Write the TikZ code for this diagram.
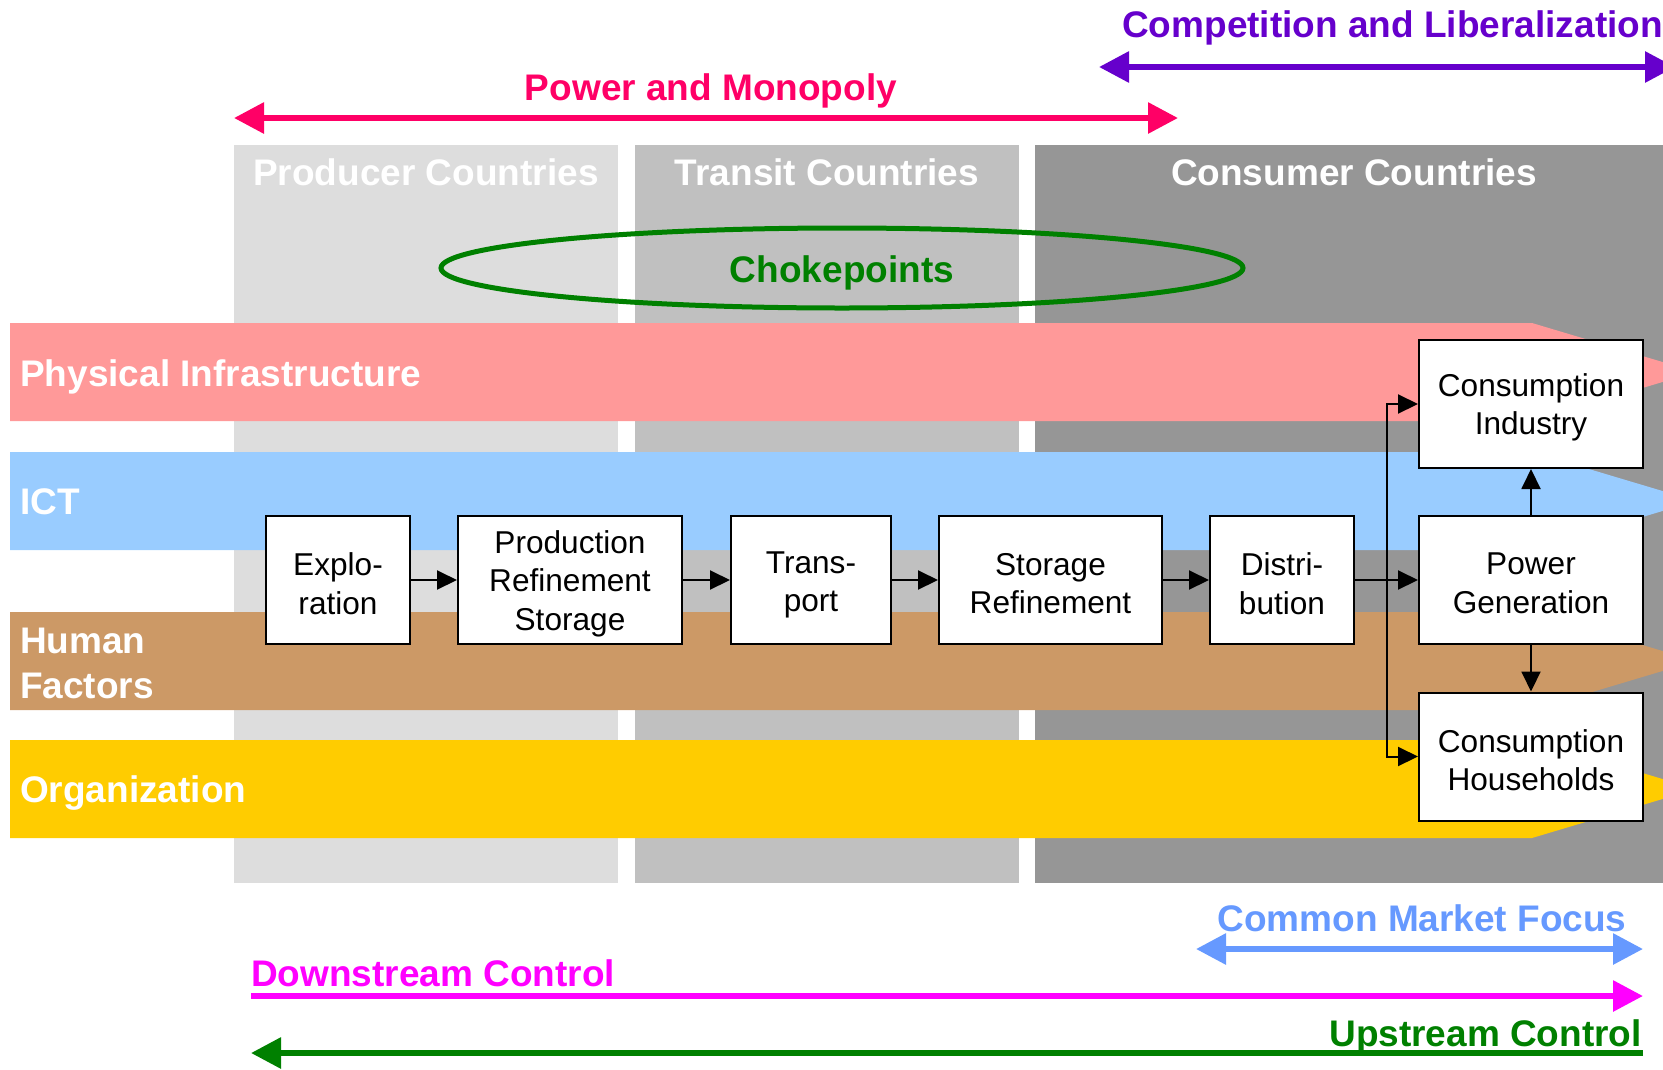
\documentclass[tikz,border=0pt]{standalone}
\usepackage{fontspec}
\setmainfont{Liberation Sans}
\usetikzlibrary{arrows.meta}
\definecolor{colProd}{HTML}{DDDDDD}
\definecolor{colTrans}{HTML}{C0C0C0}
\definecolor{colCons}{HTML}{969696}
\definecolor{bandPhys}{HTML}{FF9999}
\definecolor{bandICT}{HTML}{99CCFF}
\definecolor{bandHum}{HTML}{CC9966}
\definecolor{bandOrg}{HTML}{FFCC00}
\definecolor{cPower}{HTML}{FF0066}
\definecolor{cComp}{HTML}{6600CC}
\definecolor{cGreen}{HTML}{008000}
\definecolor{cMarket}{HTML}{6699FF}
\definecolor{cDown}{HTML}{FF00FF}
\tikzset{bigtip/.tip={Triangle[length=30pt,width=30pt]}}
\begin{document}
\begin{tikzpicture}[x=1pt,y=-1pt,
  boxst/.style={draw=black, line width=2pt, fill=white, minimum height=128pt, inner sep=0pt},
  boxtxt/.style={align=center, inner sep=0pt, yshift=-3.5pt, font=\fontsize{31.6}{38.5}\selectfont},
  conn/.style={line width=2pt, -{Triangle[length=20pt,width=19pt]}},
  bigline/.style={line width=6pt},
  bandlabel/.style={text=white, font=\fontsize{37}{45}\selectfont\bfseries, anchor=west, inner sep=0pt, align=left},
  headlabel/.style={text=white, font=\fontsize{37}{45}\selectfont\bfseries, inner sep=0pt},
  toplabel/.style={font=\fontsize{37}{45}\selectfont\bfseries, inner sep=0pt}]
\useasboundingbox (0,0) rectangle (1663,1069);
\clip (0,0) rectangle (1663,1069);
% columns
\fill[colProd] (234,145) rectangle (618,883);
\fill[colTrans] (635,145) rectangle (1019,883);
\fill[colCons] (1035,145) rectangle (1663,883);
\node[headlabel] (hprod) at (426,172) {Producer Countries};
\node[headlabel] (htrans) at (827,172) {Transit Countries};
\node[headlabel] (hcons) at (1354,172) {Consumer Countries};
% chokepoints
\draw[cGreen, line width=5pt] (842,268) ellipse [x radius=401pt, y radius=40pt];
\node[toplabel, text=cGreen] (choke) at (842,273) {Chokepoints};
% bands
\fill[bandPhys] (10,323) -- (1532,323) -- (1696,372) -- (1532,421) -- (10,421) -- cycle;
\fill[bandICT] (10,452) -- (1532,452) -- (1696,501) -- (1532,550) -- (10,550) -- cycle;
\fill[bandHum] (10,612) -- (1532,612) -- (1696,661) -- (1532,710) -- (10,710) -- cycle;
\fill[bandOrg] (10,740) -- (1532,740) -- (1696,789) -- (1532,838) -- (10,838) -- cycle;
\node[bandlabel] (lphys) at (20,377) {Physical Infrastructure};
\node[bandlabel] (lict) at (20,502) {ICT};
\node[bandlabel] (lhum) at (20,663) {Human\\Factors};
\node[bandlabel] (lorg) at (20,793) {Organization};
% top arrows
\node[toplabel, text=cPower] (tpower) at (711,91) {Power and Monopoly};
\coordinate (pm1) at (234,118);
\coordinate (pm2) at (1178,118);
\draw[bigline, cPower, bigtip-bigtip] (pm1) -- (pm2);
\node[toplabel, text=cComp, anchor=west] (tcomp) at (1122,28) {Competition and Liberalization};
\coordinate (cl1) at (1099,67);
\coordinate (cl2) at (1675,67);
\draw[bigline, cComp, bigtip-bigtip] (cl1) -- (cl2);
% bottom arrows
\node[toplabel, text=cMarket] (tmarket) at (1422,918) {Common Market Focus};
\coordinate (cm1) at (1196,949);
\coordinate (cm2) at (1643,949);
\draw[bigline, cMarket, bigtip-bigtip] (cm1) -- (cm2);
\node[toplabel, text=cDown, anchor=west] (tdown) at (251,973) {Downstream Control};
\coordinate (dc1) at (251,996);
\coordinate (dc2) at (1643,996);
\draw[bigline, cDown, -bigtip] (dc1) -- (dc2);
\node[toplabel, text=cGreen, anchor=east] (tup) at (1642,1037) {Upstream Control};
\coordinate (uc1) at (1643,1053);
\coordinate (uc2) at (251,1053);
\draw[bigline, cGreen, -bigtip] (uc1) -- (uc2);
% process boxes
\node[boxst, minimum width=144pt, label={[boxtxt]center:{Explo-\\ration}}] (expl) at (338,580) {};
\node[boxst, minimum width=224pt, label={[boxtxt]center:{Production\\Refinement\\Storage}}] (prod) at (570,580) {};
\node[boxst, minimum width=160pt, label={[boxtxt, yshift=-1.5pt]center:{Trans-\\port}}] (trans) at (811,580) {};
\node[boxst, minimum width=223pt, label={[boxtxt]center:{Storage\\Refinement}}] (stor) at (1050.5,580) {};
\node[boxst, minimum width=144pt, label={[boxtxt]center:{Distri-\\bution}}] (dist) at (1282,580) {};
\node[boxst, minimum width=224pt, label={[boxtxt]center:{Power\\Generation}}] (power) at (1531,580) {};
\node[boxst, minimum width=224pt, label={[boxtxt]center:{Consumption\\Industry}}] (cind) at (1531,404) {};
\node[boxst, minimum width=224pt, label={[boxtxt]center:{Consumption\\Households}}] (chh) at (1531,756.5) {};
\draw[conn] (expl) -- (prod);
\draw[conn] (prod) -- (trans);
\draw[conn] (trans) -- (stor);
\draw[conn] (stor) -- (dist);
\draw[conn] (dist) -- (power);
\coordinate (jx) at (1387,580);
\draw[conn] (jx) |- (cind.west);
\draw[conn] (jx) |- (chh.west);
\draw[conn] (power) -- (cind);
\draw[conn] (power) -- (chh);
\end{tikzpicture}
\end{document}
